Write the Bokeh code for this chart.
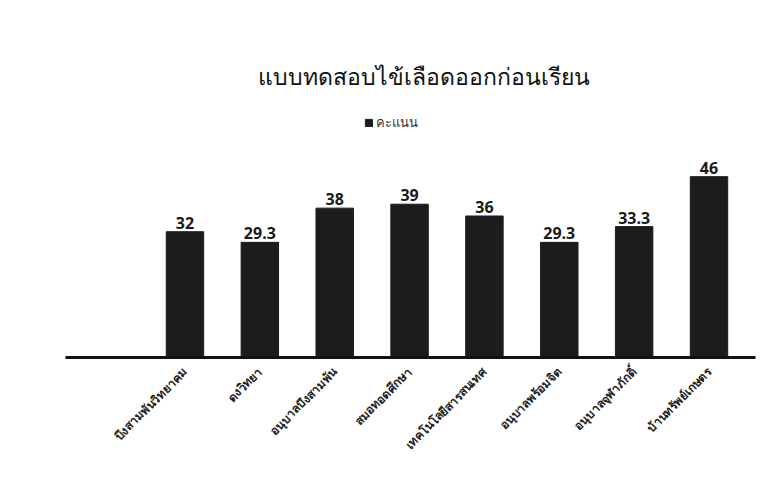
import math
from bokeh.plotting import figure
from bokeh.models import ColumnDataSource, Range1d, Legend, LegendItem, FixedTicker
from bokeh.core.properties import value
from bokeh.embed import file_html
from bokeh.resources import INLINE

title_text = "แบบทดสอบไข้เลือดออกก่อนเรียน"
series_name = "คะแนน"
categories = [
    "บึงสามพันวิทยาคม",
    "ดงวิทยา",
    "อนุบาลบึงสามพัน",
    "สมอทอดศึกษา",
    "เทคโนโลยีสารสนเทศ",
    "อนุบาลพร้อมจิต",
    "อนุบาลจุฬาภักดิ์",
    "บ้านทรัพย์เกษตร",
]
scores = [32, 29.3, 38, 39, 36, 29.3, 33.3, 46]

positions = [i + 1 for i in range(len(categories))]
labels = [f"{v:g}" for v in scores]
src = ColumnDataSource(dict(x=positions, y=scores, lab=labels))

FONT = "Noto Sans"

p = figure(width=756, height=461, output_backend="svg", toolbar_location=None,
           x_range=Range1d(-0.596, 8.621), y_range=Range1d(0, 66.4),
           min_border_left=65, min_border_right=1, min_border_bottom=100,
           min_border_top=96, title=title_text)
p.title.align = "left"
p.title.offset = 192
p.title.text_font = FONT
p.title.text_font_size = "23px"
p.title.text_font_style = "normal"
p.title.text_color = "#111111"

p.background_fill_color = "white"
p.border_fill_color = "white"
p.outline_line_color = None
p.xgrid.visible = False
p.ygrid.visible = False
p.yaxis.visible = False

r = p.vbar(x="x", top="y", width=0.5, source=src, fill_color="#1c1c1c",
           line_color="#1c1c1c")

p.text(x="x", y="y", text="lab", source=src, text_align="center",
       text_baseline="bottom", y_offset=-3, text_font=value(FONT),
       text_font_size="16px", text_font_style="bold", text_color="#1a1a1a")

ax = p.xaxis[0]
ax.ticker = FixedTicker(ticks=positions)
ax.major_label_overrides = {pos: cat for pos, cat in zip(positions, categories)}
ax.major_label_orientation = math.pi / 4
ax.major_label_text_font = FONT
ax.major_label_text_font_size = "12px"
ax.major_label_text_font_style = "bold"
ax.major_label_text_color = "#222222"
ax.axis_line_width = 3
ax.axis_line_color = "#111111"
ax.major_tick_line_color = None
ax.minor_tick_line_color = None
ax.major_label_standoff = 6

legend = Legend(items=[LegendItem(label=series_name, renderers=[r])],
                location=(299, 224), orientation="horizontal",
                glyph_width=9, glyph_height=9, label_standoff=3,
                label_text_font=FONT, label_text_font_size="13px",
                label_text_color="#333333", padding=0, margin=0,
                border_line_color=None, background_fill_alpha=0)
p.add_layout(legend)

open("out.html", "w").write(file_html(p, INLINE))
